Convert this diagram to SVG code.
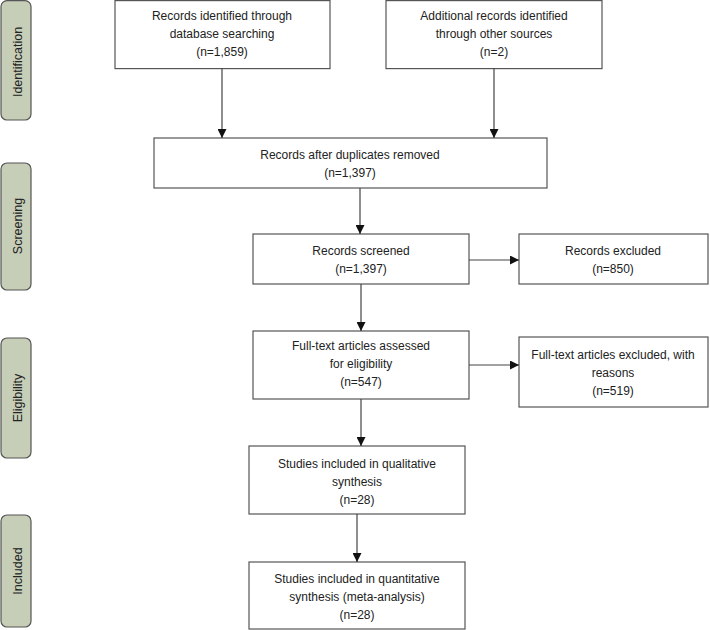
<svg xmlns="http://www.w3.org/2000/svg" width="710" height="630" viewBox="0 0 710 630">
<style>
.box{fill:#fff;stroke:#555;stroke-width:1.2}
.side{fill:#c6ceb7;stroke:#555;stroke-width:1.2}
.t{font-family:"Liberation Sans",Arial,sans-serif;font-size:12px;fill:#222;text-anchor:middle}
.s{font-size:12.5px}
.c{stroke:#444;stroke-width:1.2;fill:none;marker-end:url(#ah)}
</style>
<defs>
<marker id="ah" viewBox="0 0 10 10" refX="10" refY="5" markerWidth="9" markerHeight="9" markerUnits="userSpaceOnUse" orient="auto">
<path d="M0,0 L10,5 L0,10 z" fill="#111"/>
</marker>
</defs>
<rect width="710" height="630" fill="#fff"/>
<g id="stage-identification"><rect class="side" x="1" y="0.6" width="30" height="119.4" rx="6"/><text class="t s" transform="translate(21.5,62) rotate(-90)">Identification</text></g>
<g id="stage-screening"><rect class="side" x="1" y="163" width="30" height="127" rx="6"/><text class="t s" transform="translate(21.5,226) rotate(-90)">Screening</text></g>
<g id="stage-eligibility"><rect class="side" x="1" y="338" width="30" height="120" rx="6"/><text class="t s" transform="translate(21.5,398) rotate(-90)">Eligibility</text></g>
<g id="stage-included"><rect class="side" x="1" y="515" width="30" height="112" rx="6"/><text class="t s" transform="translate(21.5,571) rotate(-90)">Included</text></g>

<g id="db"><rect class="box" x="115" y="0.6" width="215" height="68"/>
<text class="t" x="222" y="20">Records identified through</text><text class="t" x="222" y="38">database searching</text><text class="t" x="222" y="56">(n=1,859)</text></g>
<g id="other"><rect class="box" x="386" y="0.6" width="216" height="68"/>
<text class="t" x="494" y="20">Additional records identified</text><text class="t" x="494" y="38">through other sources</text><text class="t" x="494" y="56">(n=2)</text></g>
<g id="dup"><rect class="box" x="154" y="138" width="393" height="50"/>
<text class="t" x="350" y="159">Records after duplicates removed</text><text class="t" x="350" y="177">(n=1,397)</text></g>
<g id="screened"><rect class="box" x="253" y="234" width="216" height="50"/>
<text class="t" x="361" y="255">Records screened</text><text class="t" x="361" y="273">(n=1,397)</text></g>
<g id="excluded"><rect class="box" x="519" y="234" width="189" height="50"/>
<text class="t" x="613" y="255">Records excluded</text><text class="t" x="613" y="273">(n=850)</text></g>
<g id="fulltext"><rect class="box" x="253" y="331" width="216" height="68"/>
<text class="t" x="361" y="350">Full-text articles assessed</text><text class="t" x="361" y="368">for eligibility</text><text class="t" x="361" y="386">(n=547)</text></g>
<g id="ftexcluded"><rect class="box" x="519" y="337" width="189" height="70"/>
<text class="t" x="613" y="359">Full-text articles excluded, with</text><text class="t" x="613" y="377">reasons</text><text class="t" x="613" y="395">(n=519)</text></g>
<g id="qual"><rect class="box" x="249" y="446" width="216" height="68"/>
<text class="t" x="357" y="468">Studies included in qualitative</text><text class="t" x="357" y="486">synthesis</text><text class="t" x="357" y="504">(n=28)</text></g>
<g id="quant"><rect class="box" x="249" y="562" width="216" height="67"/>
<text class="t" x="357" y="583">Studies included in quantitative</text><text class="t" x="357" y="601">synthesis (meta-analysis)</text><text class="t" x="357" y="619">(n=28)</text></g>

<g id="connectors">
<path class="c" d="M222,68.6 V138"/>
<path class="c" d="M494,68.6 V138"/>
<path class="c" d="M360,188 V234"/>
<path class="c" d="M469,260 H519"/>
<path class="c" d="M361,284 V331"/>
<path class="c" d="M469,365 H519"/>
<path class="c" d="M361,399 V446"/>
<path class="c" d="M357,514 V562"/>
</g>
</svg>
